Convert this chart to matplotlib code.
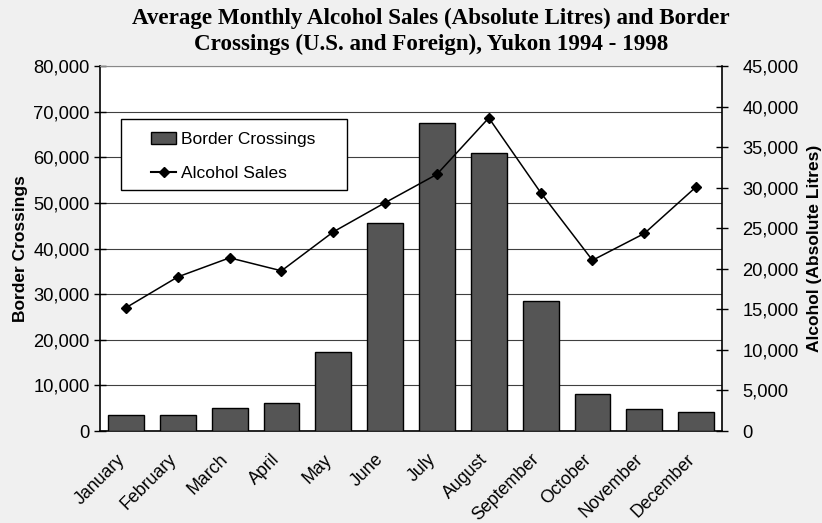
import matplotlib.pyplot as plt
import numpy as np
import matplotlib.transforms as mtransforms
from matplotlib.ticker import FuncFormatter
from matplotlib.lines import Line2D
from matplotlib.patches import Patch, Rectangle

# Average monthly figures, Yukon 1994 - 1998
months = ['January', 'February', 'March', 'April', 'May', 'June', 'July',
          'August', 'September', 'October', 'November', 'December']
border_crossings = [3500, 3600, 5000, 6200, 17400, 45500, 67600,
                    61000, 28400, 8100, 4900, 4200]
alcohol_sales = [15200, 19000, 21350, 19750, 24550, 28150, 31650,
                 38600, 29400, 21050, 24350, 30100]

plt.rcParams['font.family'] = ['Liberation Sans', 'DejaVu Sans']

fig = plt.figure(figsize=(8.22, 5.23), dpi=100, facecolor='#f0f0f0')
ax = fig.add_axes([0.1217, 0.1759, 0.7567, 0.6979])
ax.set_facecolor('white')

x = np.arange(len(months))
ax.bar(x, border_crossings, width=0.69, color='#555555', edgecolor='black',
       linewidth=1.0, zorder=3)

ax.set_ylim(0, 80000)
ax.set_xlim(-0.5, len(months) - 0.5)
ax.set_yticks(np.arange(0, 80001, 10000))
fmt = FuncFormatter(lambda v, p: f'{int(v):,}')
ax.yaxis.set_major_formatter(fmt)
ax.grid(axis='y', color='#404040', linewidth=0.8, zorder=0)
ax.set_axisbelow(True)

# month labels: slanted, each ending just under its bar
ax.set_xticks(x)
ax.set_xticklabels([])
ax.tick_params(axis='x', length=0)
shift = mtransforms.ScaledTranslation(-10 / 100, -20 / 100, fig.dpi_scale_trans)
for i, m in enumerate(months):
    ax.text(i, 0, m, transform=ax.get_xaxis_transform() + shift,
            rotation=45, ha='right', va='top', rotation_mode='anchor',
            fontsize=12.8, clip_on=False)

ax.tick_params(axis='y', direction='inout', length=9, width=1,
               labelsize=13.2, pad=3)
ax.set_ylabel('Border Crossings', fontsize=12.5, fontweight='bold', labelpad=4)

for side in ['left', 'bottom']:
    ax.spines[side].set_color('black')
    ax.spines[side].set_linewidth(1.2)
ax.spines['top'].set_color('#888888')
ax.spines['right'].set_visible(False)

ax2 = ax.twinx()
ax2.plot(x, alcohol_sales, color='black', linewidth=1.1, marker='D',
         markersize=5, zorder=4)
ax2.set_ylim(0, 45000)
ax2.set_yticks(np.arange(0, 45001, 5000))
ax2.yaxis.set_major_formatter(fmt)
ax2.tick_params(axis='y', direction='inout', length=9, width=1,
                labelsize=13.2, pad=10)
ax2.set_ylabel('Alcohol (Absolute Litres)', fontsize=12.5, fontweight='bold',
               labelpad=6)
for side in ['left', 'top', 'bottom']:
    ax2.spines[side].set_visible(False)
ax2.spines['right'].set_color('black')
ax2.spines['right'].set_linewidth(1.2)

# legend box drawn separately so it can be wider than its contents
ax2.add_patch(Rectangle((0.034, 0.660), 0.363, 0.195, transform=ax2.transAxes,
                        facecolor='white', edgecolor='black', linewidth=1.0,
                        zorder=5))
handles = [Patch(facecolor='#555555', edgecolor='black', label='Border Crossings'),
           Line2D([], [], color='black', marker='D', markersize=5,
                  label='Alcohol Sales')]
leg = ax2.legend(handles=handles, loc='upper left',
                 bbox_to_anchor=(0.082, 0.819), fontsize=12.5, frameon=False,
                 borderpad=0, labelspacing=1.07, handlelength=1.45,
                 handletextpad=0.3, borderaxespad=0)
leg.set_zorder(6)

fig.suptitle('Average Monthly Alcohol Sales (Absolute Litres) and Border\n'
             'Crossings (U.S. and Foreign), Yukon 1994 - 1998',
             x=0.524, y=0.986, fontsize=16.6, fontweight='bold',
             family=['Liberation Serif', 'DejaVu Serif'], linespacing=1.3)

fig.savefig('out.png', dpi=100, facecolor=fig.get_facecolor())
